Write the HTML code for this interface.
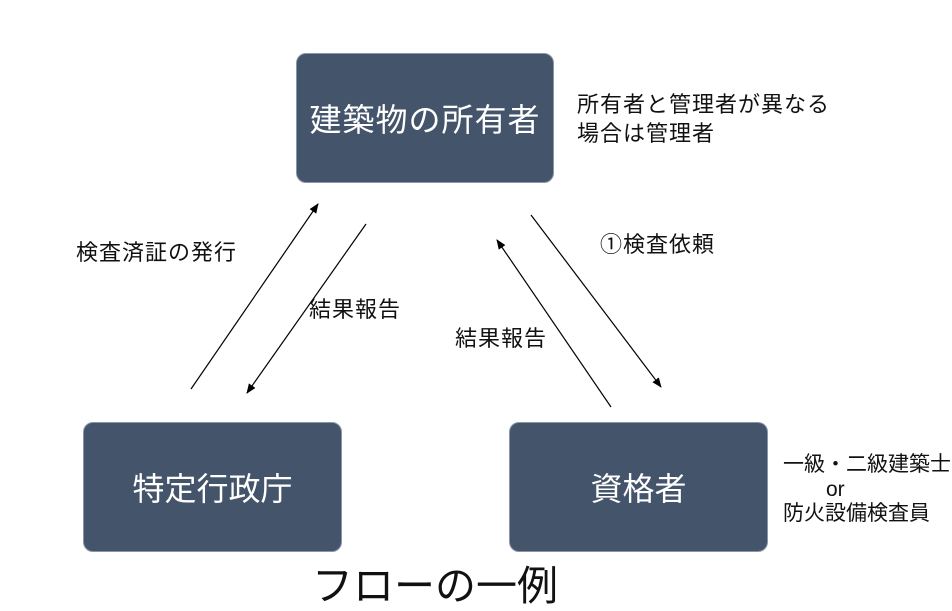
<!DOCTYPE html>
<html><head><meta charset="utf-8"><style>
body{margin:0;width:952px;height:610px;background:#fff;position:relative;overflow:hidden;font-family:"Liberation Sans","Noto Sans CJK JP",sans-serif;}
.box{position:absolute;background:#44546a;border-radius:10px;color:#fff;font-size:32px;display:flex;align-items:center;justify-content:center;border:1px solid #8a96a8;box-sizing:border-box;}
.t{position:absolute;font-size:22px;letter-spacing:1px;color:#111;white-space:nowrap;line-height:1.2;}
.r{font-size:21px;letter-spacing:0;}
</style></head><body>
<div class="box" style="left:296px;top:53px;width:258px;height:130px;letter-spacing:1px;">建築物の所有者</div>
<div class="box" style="left:83px;top:422px;width:259px;height:130px;">特定行政庁</div>
<div class="box" style="left:509px;top:422px;width:259px;height:130px;">資格者</div>
<svg width="952" height="610" style="position:absolute;left:0;top:0">
<defs><marker id="a" markerWidth="10" markerHeight="8" refX="9" refY="4" orient="auto" markerUnits="userSpaceOnUse"><path d="M0,0 L10,4 L0,8 z" fill="#000"/></marker></defs>
<g stroke="#000" stroke-width="1.2" marker-end="url(#a)">
<line x1="191" y1="389" x2="318" y2="204"/>
<line x1="366" y1="224" x2="247" y2="393"/>
<line x1="611" y1="407" x2="497" y2="240"/>
<line x1="531" y1="215" x2="661" y2="387"/>
</g></svg>
<div class="t" style="left:76px;top:240px;">検査済証の発行</div>
<div class="t" style="left:309px;top:297px;">結果報告</div>
<div class="t" style="left:455px;top:326px;">結果報告</div>
<div class="t" style="left:600px;top:232px;">①検査依頼</div>
<div class="t" style="left:577px;top:92px;">所有者と管理者が異なる</div>
<div class="t" style="left:577px;top:121px;">場合は管理者</div>
<div class="t r" style="left:783px;top:452px;">一級・二級建築士</div>
<div class="t r" style="left:826px;top:477px;">or</div>
<div class="t r" style="left:783px;top:501px;">防火設備検査員</div>
<div class="t" style="left:312px;top:562px;font-size:41px;letter-spacing:0;">フローの一例</div>
</body></html>
